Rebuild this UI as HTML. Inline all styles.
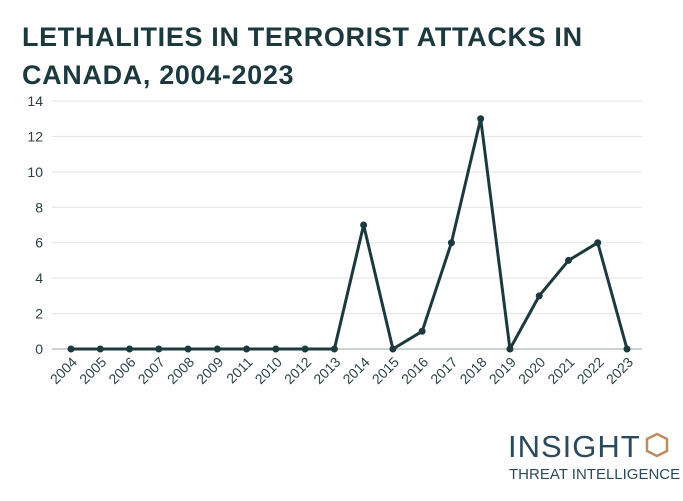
<!DOCTYPE html>
<html><head><meta charset="utf-8"><style>
body{margin:0;background:#fff;width:683px;height:501px;overflow:hidden;font-family:"Liberation Sans",sans-serif}
#title{position:absolute;left:22px;top:18px;font-size:27px;font-weight:bold;color:#1c3a3e;line-height:38px;letter-spacing:0.65px}
svg{position:absolute;left:0;top:0}
</style></head><body>
<div id="title">LETHALITIES IN TERRORIST ATTACKS IN<br>CANADA, 2004-2023</div>
<svg id="chart" width="683" height="501">
<g id="grid"></g><g id="xl"></g><g id="yl"></g><path id="line" fill="none" stroke="#1c3a3e" stroke-width="3" stroke-linejoin="round"/><g id="pts"></g>
<g>
<text x="508" y="457" font-size="31" fill="#2b4a5c" letter-spacing="1" font-family="Liberation Sans">INSIGHT</text>
<path d="M657 434 l10 5 v12 l-10 5 l-10-5 v-12 z" fill="none" stroke="#c08a5a" stroke-width="2.5"/>
<text x="509" y="479" font-size="15" fill="#2b4a5c" font-family="Liberation Sans">THREAT INTELLIGENCE</text>
</g>
</svg>
<script>
const categories=["2004","2005","2006","2007","2008","2009","2011","2010","2012","2013","2014","2015","2016","2017","2018","2019","2020","2021","2022","2023"];
const values=[0,0,0,0,0,0,0,0,0,0,7,0,1,6,13,0,3,5,6,0];
const yTicks=[0,2,4,6,8,10,12,14];
const NS="http://www.w3.org/2000/svg";
const x0=71,x1=627,y0=349,y1=101;
const xs=i=>x0+i*(x1-x0)/(categories.length-1);
const ys=v=>y0-v*(y0-y1)/14;
function mk(t,a,p){const e=document.createElementNS(NS,t);for(const k in a)e.setAttribute(k,a[k]);p.appendChild(e);return e;}
const grid=document.getElementById('grid'),yl=document.getElementById('yl'),xl=document.getElementById('xl'),pts=document.getElementById('pts');
yTicks.forEach(v=>{
const l=mk('line',{x1:52,x2:642,y1:ys(v),y2:ys(v),stroke:v===0?'#9aa3a3':'#e3e3e3','stroke-width':1},grid);


const t=mk('text',{x:43,y:ys(v)+5,'text-anchor':'end','font-size':14,fill:'#2c3e40'},yl);
t.textContent=v;


});
categories.forEach((c,i)=>{
const t=mk('text',{x:0,y:0,'text-anchor':'end','font-size':14,fill:'#2c4447',transform:`translate(${xs(i)+7},${y0+14}) rotate(-45)`},xl);
t.textContent=c;


});
document.getElementById('line').setAttribute('d',values.map((v,i)=>(i?'L':'M')+xs(i)+' '+ys(v)).join(''));
values.forEach((v,i)=>{
const c=mk('circle',{cx:xs(i),cy:ys(v),r:3.5,fill:'#1c3a3e'},pts);


});
</script>
</body></html>
